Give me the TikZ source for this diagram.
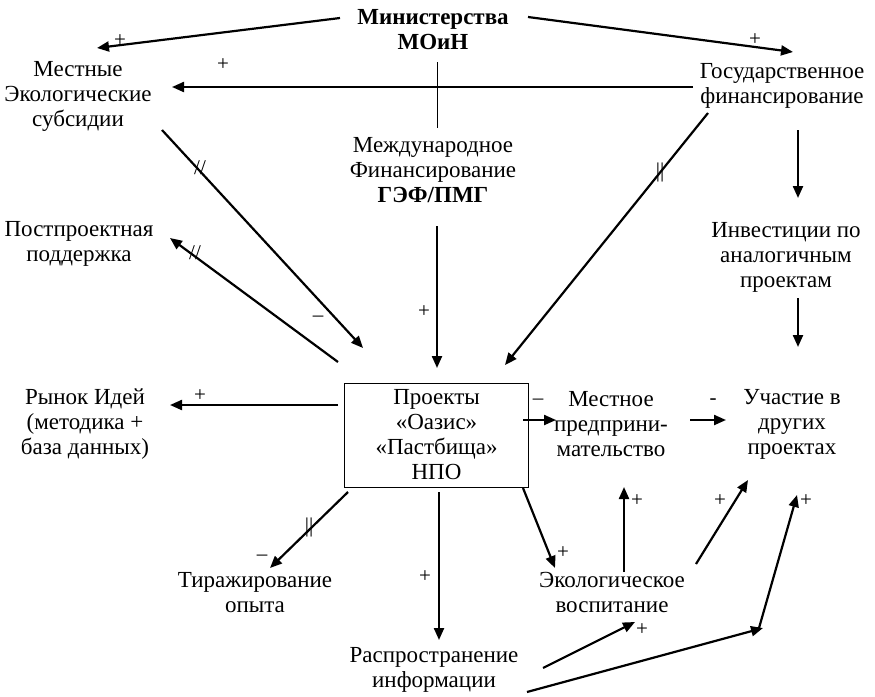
\documentclass[tikz,border=0pt]{standalone}
\usepackage{fontspec}
\setmainfont{Liberation Serif}
\usetikzlibrary{arrows.meta,calc}

\tikzset{
  txt/.style={align=center, inner sep=0pt, font=\fontsize{23}{25}\selectfont},
  sgn/.style={inner sep=0pt, font=\fontsize{21}{24}\selectfont},
  arr/.style={line width=2.2pt, -{Triangle[length=12pt,width=10pt]}},
}

\begin{document}
\begin{tikzpicture}[x=1pt, y=-1pt]
    \useasboundingbox (0,0) rectangle (875,696);
    % Источники финансирования
    \node[txt] (min) at (433,30) {\textbf{Министерства}\\\textbf{МОиН}};
    \node[txt] (loc) at (78,96) {Местные\\Экологические\\субсидии};
    \node[txt] (gov) at (782,86) {Государственное\\финансирование};
    \node[txt] (intl) at (433,170) {Международное\\Финансирование\\\textbf{ГЭФ/ПМГ}};
    \node[txt] (post) at (79,244) {Постпроектная\\поддержка};
    \node[txt] (inv) at (786,257) {Инвестиции по\\аналогичным\\проектам};
    % Центральный блок
    \node[draw, thick, minimum width=184pt, minimum height=104pt, txt] (box) at (436.5,435)
        {Проекты\\«Оазис»\\«Пастбища»\\НПО};
    \node[txt] (market) at (85,424) {Рынок Идей\\(методика +\\база данных)};
    \node[txt] (ent) at (611,424) {Местное\\предприни-\\мательство};
    \node[txt] (part) at (792,424) {Участие в\\других\\проектах};
    % Результаты
    \node[txt] (rep) at (255,593) {Тиражирование\\опыта};
    \node[txt] (edu) at (612,592) {Экологическое\\воспитание};
    \node[txt] (info) at (434,670) {Распространение\\информации};
    \coordinate (bend) at (763,628);

    % Связи
    \draw[arr] ($(min)+(-93,-12)$) -- ($(loc)+(19,-48)$);
    \draw[arr] ($(min)+(95,-13)$) -- ($(gov)+(11,-34)$);
    \draw[arr] ($(gov)+(-89,1)$) -- ($(loc)+(94,-9)$);
    \draw[line width=0.8pt] ($(min)+(4,32)$) -- ($(intl)+(4,-42)$);
    \draw[arr] ($(loc)+(84,34)$) -- ($(box)+(-73.5,-87)$);
    \draw[arr] ($(box)+(-98.5,-73)$) -- ($(post)+(91,-6)$);
    \draw[arr] ($(intl)+(4,56)$) -- ($(box)+(0.5,-67)$);
    \draw[arr] ($(gov)+(-74,27)$) -- ($(box)+(68.5,-70)$);
    \draw[arr] ($(gov)+(16,44)$) -- ($(inv)+(12,-59)$);
    \draw[arr] ($(inv)+(12,41)$) -- ($(part)+(6,-77)$);
    \draw[arr] ($(box)+(-98.5,-30)$) -- ($(market)+(85,-19)$);
    \draw[arr] ($(box)+(86.5,-15)$) -- ($(ent)+(-55,-4)$);
    \draw[arr] ($(ent)+(79,-4)$) -- ($(part)+(-66,-4)$);
    \draw[arr] ($(box)+(-88.5,57)$) -- ($(rep)+(15,-25)$);
    \draw[arr] ($(box)+(2.5,57)$) -- ($(info)+(5,-30)$);
    \draw[arr] ($(box)+(86.5,53)$) -- ($(edu)+(-57,-24)$);
    \draw[arr] ($(edu)+(12,-20)$) -- ($(ent)+(13,63)$);
    \draw[arr] ($(edu)+(84,-28)$) -- ($(part)+(-44,56)$);
    \draw[arr] ($(info)+(109,-2)$) -- ($(edu)+(23,30)$);
    \draw[arr] ($(info)+(93,22)$) -- (bend);
    \draw[arr] ($(bend)+(-4,0)$) -- ($(part)+(5,71)$);

    % Знаки связей
    \node[sgn] (s1) at (120,41) {+};
    \node[sgn] (s2) at (755,40) {+};
    \node[sgn] (s3) at (223,65) {+};
    \node[sgn] (s4) at (200,168) {//};
    \node[sgn] (s5) at (318,319) {–};
    \node[sgn] (s6) at (195,253) {//};
    \node[sgn] (s7) at (424,312) {+};
    \node[sgn] (s8) at (660,172) {||};
    \node[sgn] (s9) at (200,396) {+};
    \node[sgn] (s10) at (538,402) {–};
    \node[sgn] (s11) at (713,402) {-};
    \node[sgn] (s12) at (309,527) {||};
    \node[sgn] (s13) at (262,558) {–};
    \node[sgn] (s14) at (425,577) {+};
    \node[sgn] (s15) at (563,553) {+};
    \node[sgn] (s16) at (637,501) {+};
    \node[sgn] (s17) at (720,501) {+};
    \node[sgn] (s18) at (642,630) {+};
    \node[sgn] (s19) at (806,501) {+};
\end{tikzpicture}
\end{document}
